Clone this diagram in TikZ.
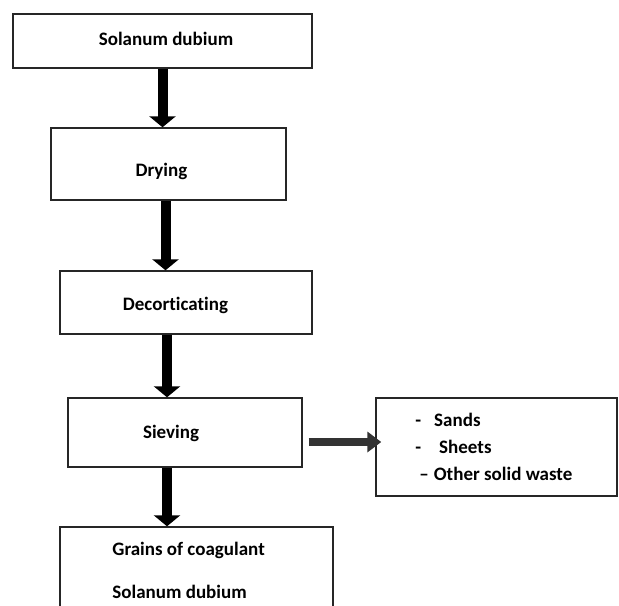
\documentclass[tikz,border=0pt]{standalone}
\usepackage{fontspec}
\setmainfont[Ligatures=NoCommon]{Carlito}
\usetikzlibrary{arrows.meta}

\begin{document}
\begin{tikzpicture}[x=0.5pt, y=-0.5pt,
  box/.style={draw=black!85, line width=0.7pt, rectangle, inner sep=0pt},
  lbl/.style={inner sep=0pt, font=\fontsize{9.5}{11.4}\selectfont\bfseries},
  flow/.style={-{Triangle[width=13pt, length=5.5pt]}, line width=5pt, black},
  side/.style={-{Triangle[width=10pt, length=7pt]}, line width=4pt, black!80}]
\useasboundingbox (0,0) rectangle (619,605);
\clip (0,0) rectangle (619,605);

% Etapas do processo
\node[box, minimum width=149.5pt, minimum height=27pt] (src) at (162.5,41) {};
\node[box, minimum width=117.5pt, minimum height=36pt] (dry) at (168.5,164) {};
\node[box, minimum width=126pt, minimum height=31.5pt] (dec) at (186,302.5) {};
\node[box, minimum width=117pt, minimum height=34.5pt] (sieve) at (185,432.5) {};
\node[box, minimum width=120.5pt, minimum height=49pt] (waste) at (496.5,447) {};
\node[box, minimum width=136.5pt, minimum height=45pt] (grains) at (196.5,572) {};

% Textos
\node[lbl, anchor=base] (src-t) at (166,45) {Solanum dubium};
\node[lbl, anchor=base] (dry-t) at (161.5,176) {Drying};
\node[lbl, anchor=base] (dec-t) at (175.5,310) {Decorticating};
\node[lbl, anchor=base] (sieve-t) at (171,438) {Sieving};
\node[lbl, anchor=base west] (waste-a) at (415,426) {-\hspace{6.5pt}Sands};
\node[lbl, anchor=base west] (waste-b) at (415,453) {-\hspace{9pt}Sheets};
\node[lbl, anchor=base west] (waste-c) at (419,480) {--\hspace{2.5pt}Other solid waste};
\node[lbl, anchor=base west] (grains-a) at (112,555) {Grains of coagulant};
\node[lbl, anchor=base west] (grains-b) at (112,598) {Solanum dubium};

% Setas
\draw[flow] (src.south) -- (src.south |- dry.north);
\draw[flow] ([xshift=-1.5pt]dry.south) -- ([xshift=-1.5pt]dry.south |- dec.north);
\draw[flow] ([xshift=-9.5pt]dec.south) -- ([xshift=-9.5pt]dec.south |- sieve.north);
\draw[flow] ([xshift=-9pt]sieve.south) -- ([xshift=-9pt]sieve.south |- grains.north);
\draw[side] ([shift={(3pt,-4.75pt)}]sieve.east) -- ([shift={(3pt,-4.75pt)}]sieve.east -| waste.west);
\end{tikzpicture}
\end{document}
